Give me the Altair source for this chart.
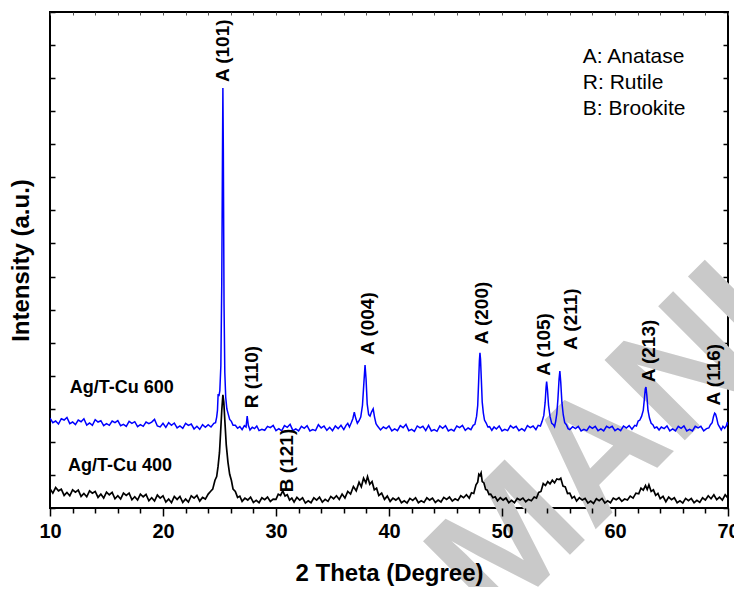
import altair as alt
import pandas as pd

FONT = "Liberation Sans"

# ---------------- Ag/T-Cu 600 (blue) : (2theta, intensity) ----------------
blue_base_10_24 = [(10.0,2.72),(10.25,2.58),(10.5,2.63),(10.75,2.54),(11.0,2.7),(11.25,2.66),(11.5,2.74),(11.75,2.55),
    (12.0,2.6),(12.25,2.52),(12.5,2.66),(12.75,2.61),(13.0,2.7),(13.25,2.51),(13.5,2.57),(13.75,2.5),(14.0,2.67),
    (14.25,2.6),(14.5,2.64),(14.75,2.49),(15.0,2.55),(15.25,2.5),(15.5,2.63),(15.75,2.58),(16.0,2.64),(16.25,2.49),
    (16.5,2.53),(16.75,2.47),(17.0,2.62),(17.25,2.56),(17.5,2.61),(17.75,2.46),(18.0,2.52),(18.25,2.47),(18.5,2.6),
    (18.75,2.55),(19.0,2.6),(19.25,2.68),(19.5,2.48),(19.75,2.45),(20.0,2.56),(20.25,2.44),(20.5,2.58),(20.75,2.5),
    (21.0,2.57),(21.25,2.42),(21.5,2.48),(21.75,2.41),(22.0,2.56),(22.25,2.5),(22.5,2.54),(22.75,2.39),(23.0,2.47),
    (23.25,2.38),(23.5,2.52),(23.75,2.44),(24.0,2.52)]
blue_peak_101 = [(24.25,2.45),(24.5,2.56),(24.65,2.58),(24.75,2.75),(24.82,2.95),(24.88,3.45),(24.95,3.38),(25.03,3.55),
    (25.12,4.3),(25.2,6.8),(25.26,10.5),(25.3,12.7),(25.34,10.8),(25.4,6.2),(25.47,4.1),(25.55,3.35),(25.65,3.0),
    (25.75,2.87),(25.9,2.68),(26.05,2.62),(26.2,2.5)]
blue_base_26_36 = [(26.4,2.5),(26.6,2.41),(26.8,2.46),(27.0,2.37),(27.2,2.49),(27.35,2.45),(27.45,2.78),(27.55,2.5),
    (27.7,2.36),(27.9,2.44),(28.1,2.4),(28.3,2.48),(28.5,2.34),(28.75,2.38),(29.0,2.35),(29.25,2.47),(29.5,2.43),
    (29.75,2.5),(30.0,2.34),(30.25,2.4),(30.5,2.33),(30.75,2.49),(31.0,2.44),(31.25,2.53),(31.5,2.34),(31.75,2.39),
    (32.0,2.33),(32.25,2.47),(32.5,2.41),(32.75,2.49),(33.0,2.33),(33.25,2.37),(33.5,2.34),(33.75,2.52),(34.0,2.42),
    (34.25,2.48),(34.5,2.35),(34.75,2.44),(35.0,2.34),(35.25,2.48),(35.5,2.4),(35.75,2.5),(36.0,2.37),(36.2,2.5)]
blue_peak_004 = [(36.35,2.56),(36.5,2.45),(36.65,2.57),(36.8,2.7),(36.93,2.9),(37.05,2.72),(37.2,2.56),(37.35,2.64),
    (37.5,2.75),(37.65,3.1),(37.78,3.8),(37.88,4.32),(37.97,3.9),(38.07,3.15),(38.2,2.82),(38.32,2.78),(38.45,2.9),
    (38.6,3.0),(38.72,2.75),(38.85,2.55),(39.0,2.47)]
blue_base_39_47 = [(39.25,2.36),(39.5,2.45),(39.75,2.4),(40.0,2.48),(40.25,2.33),(40.5,2.39),(40.75,2.34),(41.0,2.49),
    (41.25,2.43),(41.5,2.53),(41.75,2.34),(42.0,2.38),(42.25,2.32),(42.5,2.48),(42.75,2.42),(43.0,2.47),(43.25,2.34),
    (43.5,2.5),(43.75,2.33),(44.0,2.37),(44.25,2.32),(44.5,2.48),(44.75,2.41),(45.0,2.49),(45.25,2.33),(45.5,2.38),
    (45.75,2.33),(46.0,2.48),(46.25,2.43),(46.5,2.5),(46.75,2.35),(47.0,2.42),(47.25,2.37)]
blue_peak_200 = [(47.45,2.5),(47.6,2.53),(47.75,2.77),(47.85,3.1),(47.93,3.8),(48.0,4.45),(48.05,4.69),(48.1,4.5),
    (48.17,3.9),(48.25,3.2),(48.35,2.87),(48.45,2.66),(48.6,2.57),(48.75,2.45),(48.9,2.46)]
blue_base_49_53 = [(49.1,2.35),(49.3,2.45),(49.5,2.39),(49.75,2.48),(50.0,2.33),(50.25,2.38),(50.5,2.34),(50.75,2.49),
    (51.0,2.42),(51.25,2.47),(51.5,2.34),(51.75,2.4),(52.0,2.33),(52.25,2.49),(52.5,2.43),(52.75,2.48),(53.0,2.37),
    (53.2,2.5)]
blue_peak_105_211 = [(53.4,2.48),(53.55,2.62),(53.7,2.8),(53.82,3.2),(53.9,3.65),(53.95,3.82),(54.02,3.6),(54.12,3.1),
    (54.25,2.77),(54.4,2.56),(54.55,2.52),(54.65,2.46),(54.75,2.62),(54.85,2.85),(54.95,3.3),(55.05,3.9),(55.12,4.14),
    (55.2,3.8),(55.3,3.2),(55.42,2.82),(55.55,2.58),(55.7,2.52),(55.85,2.4)]
blue_base_56_62 = [(56.0,2.37),(56.25,2.46),(56.5,2.4),(56.75,2.47),(57.0,2.33),(57.25,2.38),(57.5,2.34),(57.75,2.47),
    (58.0,2.41),(58.25,2.47),(58.5,2.34),(58.75,2.39),(59.0,2.33),(59.25,2.47),(59.5,2.42),(59.75,2.47),(60.0,2.34),
    (60.25,2.4),(60.5,2.34),(60.75,2.48),(61.0,2.42),(61.25,2.49),(61.5,2.38),(61.75,2.5)]
blue_peak_213 = [(61.9,2.48),(62.05,2.63),(62.2,2.66),(62.35,2.77),(62.5,2.95),(62.6,3.3),(62.68,3.6),(62.74,3.66),
    (62.82,3.4),(62.92,2.95),(63.05,2.72),(63.2,2.56),(63.35,2.52),(63.5,2.42),(63.7,2.45)]
blue_base_64_68 = [(63.9,2.36),(64.1,2.45),(64.35,2.4),(64.6,2.48),(64.85,2.33),(65.1,2.39),(65.35,2.33),(65.6,2.47),
    (65.85,2.41),(66.1,2.48),(66.35,2.33),(66.6,2.38),(66.85,2.33),(67.1,2.47),(67.35,2.42),(67.6,2.47),(67.85,2.33),
    (68.1,2.4),(68.3,2.42)]
blue_peak_116 = [(68.45,2.52),(68.6,2.58),(68.72,2.77),(68.82,2.87),(68.9,2.84),(69.0,2.72),(69.12,2.53),(69.25,2.45),
    (69.4,2.36),(69.55,2.47),(69.7,2.41),(69.85,2.48),(69.95,2.6),(70.0,2.5)]

# ---------------- Ag/T-Cu 400 (black) ----------------
black_base_10_24 = [(10.0,0.58),(10.25,0.45),(10.5,0.62),(10.75,0.52),(11.0,0.57),(11.25,0.38),(11.5,0.47),(11.75,0.37),
    (12.0,0.55),(12.25,0.48),(12.5,0.54),(12.75,0.35),(13.0,0.44),(13.25,0.34),(13.5,0.52),(13.75,0.45),(14.0,0.5),
    (14.25,0.32),(14.5,0.42),(14.75,0.3),(15.0,0.48),(15.25,0.4),(15.5,0.47),(15.75,0.28),(16.0,0.37),(16.25,0.27),
    (16.5,0.45),(16.75,0.38),(17.0,0.45),(17.25,0.25),(17.5,0.34),(17.75,0.24),(18.0,0.42),(18.25,0.34),(18.5,0.41),
    (18.75,0.22),(19.0,0.31),(19.25,0.21),(19.5,0.39),(19.75,0.3),(20.0,0.37),(20.25,0.18),(20.5,0.27),(20.75,0.16),
    (21.0,0.35),(21.25,0.26),(21.5,0.35),(21.75,0.17),(22.0,0.27),(22.25,0.18),(22.5,0.37),(22.75,0.3),(23.0,0.38),
    (23.25,0.21),(23.5,0.32),(23.75,0.27),(24.0,0.42)]
black_peak_101 = [(24.2,0.5),(24.4,0.57),(24.6,0.84),(24.75,0.95),(24.87,1.25),(25.0,1.68),(25.1,2.3),(25.2,2.95),
    (25.3,3.42),(25.38,3.2),(25.48,2.6),(25.6,1.9),(25.75,1.38),(25.9,1.02),(26.05,0.84),(26.2,0.57),(26.4,0.5),
    (26.6,0.32),(26.8,0.36)]
black_base_27_35 = [(27.0,0.2),(27.25,0.3),(27.5,0.24),(27.75,0.33),(28.0,0.17),(28.25,0.23),(28.5,0.16),(28.75,0.31),
    (29.0,0.25),(29.25,0.33),(29.5,0.2),(29.75,0.27),(30.0,0.26),(30.2,0.42),(30.4,0.38),(30.6,0.52),(30.8,0.36),
    (31.0,0.4),(31.2,0.24),(31.4,0.3),(31.6,0.18),(31.85,0.32),(32.1,0.24),(32.35,0.31),(32.6,0.15),(32.85,0.22),
    (33.1,0.16),(33.35,0.31),(33.6,0.24),(33.85,0.33),(34.1,0.18),(34.35,0.26),(34.6,0.2),(34.85,0.35),(35.1,0.28),
    (35.35,0.37)]
black_peak_004 = [(35.6,0.26),(35.85,0.42),(36.1,0.3),(36.35,0.5),(36.6,0.42),(36.85,0.65),(37.1,0.52),(37.35,0.78),
    (37.55,0.64),(37.75,0.9),(37.95,0.76),(38.1,0.95),(38.3,0.72),(38.5,0.8),(38.7,0.55),(38.9,0.6),(39.1,0.38),
    (39.35,0.45),(39.6,0.26),(39.85,0.36)]
black_base_40_47 = [(40.1,0.2),(40.35,0.3),(40.6,0.24),(40.85,0.31),(41.1,0.16),(41.35,0.22),(41.6,0.15),(41.85,0.29),
    (42.1,0.23),(42.35,0.31),(42.6,0.16),(42.85,0.22),(43.1,0.17),(43.35,0.31),(43.6,0.24),(43.85,0.3),(44.1,0.17),
    (44.35,0.24),(44.6,0.18),(44.85,0.32),(45.1,0.26),(45.35,0.33),(45.6,0.21),(45.85,0.28),(46.1,0.23),(46.35,0.37),
    (46.6,0.31),(46.85,0.4),(47.1,0.3)]
black_peak_200 = [(47.3,0.46),(47.5,0.44),(47.7,0.7),(47.85,0.78),(47.95,1.02),(48.05,0.98),(48.15,1.06),(48.25,0.8),
    (48.4,0.76),(48.55,0.56),(48.7,0.54),(48.85,0.41),(49.0,0.42),(49.2,0.31),(49.4,0.34)]
black_base_49_53 = [(49.6,0.22),(49.85,0.31),(50.1,0.24),(50.35,0.3),(50.6,0.16),(50.85,0.23),(51.1,0.16),(51.35,0.29),
    (51.6,0.24),(51.85,0.3),(52.1,0.19),(52.35,0.26),(52.6,0.22),(52.85,0.33)]
black_peak_105_211 = [(53.05,0.3),(53.25,0.47),(53.45,0.5),(53.65,0.74),(53.85,0.68),(54.05,0.8),(54.25,0.73),
    (54.45,0.84),(54.65,0.76),(54.85,0.88),(55.05,0.86),(55.2,0.9),(55.4,0.66),(55.6,0.64),(55.8,0.44),(56.0,0.45),
    (56.2,0.3),(56.4,0.35)]
black_base_56_61 = [(56.6,0.21),(56.85,0.31),(57.1,0.24),(57.35,0.29),(57.6,0.15),(57.85,0.21),(58.1,0.14),(58.35,0.28),
    (58.6,0.22),(58.85,0.29),(59.1,0.15),(59.35,0.22),(59.6,0.16),(59.85,0.3),(60.1,0.25),(60.35,0.31),(60.6,0.2),
    (60.85,0.27),(61.1,0.24),(61.35,0.36)]
black_peak_213 = [(61.6,0.3),(61.85,0.45),(62.1,0.43),(62.3,0.6),(62.5,0.54),(62.7,0.68),(62.85,0.56),(63.0,0.7),
    (63.2,0.5),(63.4,0.55),(63.6,0.38),(63.8,0.44),(64.0,0.28),(64.25,0.35)]
black_base_64_70 = [(64.5,0.19),(64.75,0.33),(65.0,0.25),(65.25,0.31),(65.5,0.16),(65.75,0.22),(66.0,0.15),(66.25,0.29),
    (66.5,0.22),(66.75,0.29),(67.0,0.16),(67.25,0.23),(67.5,0.17),(67.75,0.31),(68.0,0.24),(68.25,0.37),(68.5,0.28),
    (68.75,0.4),(69.0,0.25),(69.25,0.33),(69.5,0.24),(69.75,0.4),(70.0,0.3)]

# ---------------- annotations ----------------
peak_labels = ["A (101)", "R (110)", "B (121)", "A (004)", "A (200)", "A (105)", "A (211)", "A (213)", "A (116)"]
peak_label_theta = [25.3, 27.9, 31.0, 38.1, 48.2, 53.7, 56.1, 63.0, 68.75]
peak_label_base = [12.88, 3.02, 0.48, 4.63, 4.95, 4.0, 4.78, 3.8, 3.1]

sample_labels = ["Ag/T-Cu 600", "Ag/T-Cu 400"]
sample_label_theta = [11.75, 11.6]
sample_label_pos = [3.62, 1.28]

phase_key = ["A: Anatase", "R: Rutile", "B: Brookite"]
phase_key_theta = [57.15, 57.15, 57.15]
phase_key_pos = [13.64, 12.85, 12.07]

watermark_text = ["MANUSCRIPT"]
watermark_theta = [46.3]
watermark_pos = [-2.6]

x_tick_values = list(range(10, 71, 2))
y_tick_values = list(range(0, 16))


def to_frame(*segments):
    pts = [p for seg in segments for p in seg]
    return pd.DataFrame({"theta": [p[0] for p in pts], "intensity": [p[1] for p in pts]})


blue_df = to_frame(blue_base_10_24, blue_peak_101, blue_base_26_36, blue_peak_004, blue_base_39_47,
                   blue_peak_200, blue_base_49_53, blue_peak_105_211, blue_base_56_62, blue_peak_213,
                   blue_base_64_68, blue_peak_116)
black_df = to_frame(black_base_10_24, black_peak_101, black_base_27_35, black_peak_004, black_base_40_47,
                    black_peak_200, black_base_49_53, black_peak_105_211, black_base_56_61, black_peak_213,
                    black_base_64_70)
peaks_df = pd.DataFrame({"label": peak_labels, "theta": peak_label_theta, "intensity": peak_label_base})
samples_df = pd.DataFrame({"label": sample_labels, "theta": sample_label_theta, "intensity": sample_label_pos})
key_df = pd.DataFrame({"label": phase_key, "theta": phase_key_theta, "intensity": phase_key_pos})
wm_df = pd.DataFrame({"label": watermark_text, "theta": watermark_theta, "intensity": watermark_pos})

xs = alt.Scale(domain=[10, 70], nice=False, zero=False)
ys = alt.Scale(domain=[0, 15], nice=False, zero=False)

bottom_axis = alt.Axis(
    orient="bottom", values=x_tick_values, domain=False, grid=False, zindex=1,
    tickColor="black", tickWidth=1.5,
    tickSize={"condition": {"test": "datum.value % 10 === 0", "value": 8}, "value": 5},
    labelExpr="datum.value % 10 === 0 ? datum.label : ''", labelOverlap=False, labelFlush=False,
    labelFont=FONT, labelFontSize=20, labelFontWeight="bold", labelColor="black", labelPadding=5,
    title="2 Theta (Degree)", titleFont=FONT, titleFontSize=24, titleFontWeight="bold",
    titleColor="black", titlePadding=20,
)
left_axis = alt.Axis(
    orient="left", values=y_tick_values, labels=False, domain=False, grid=False, zindex=1,
    tickColor="black", tickWidth=1.5, tickSize=5, offset=-5,
    title="Intensity (a.u.)", titleFont=FONT, titleFontSize=24, titleFontWeight="bold",
    titleColor="black", titlePadding=16,
)
top_axis = alt.Axis(orient="top", values=x_tick_values, labels=False, domain=False, grid=False,
                    tickColor="#555555", tickWidth=1, tickSize=3, offset=-3, title=None)
right_axis = alt.Axis(orient="right", values=y_tick_values, labels=False, domain=False, grid=False,
                      tickColor="black", tickWidth=1.5, tickSize=5, offset=-5, title=None)

watermark = alt.Chart(wm_df).mark_text(
    angle=315, align="left", baseline="middle", fontSize=165, fontWeight="bold",
    font=FONT, color="#c9c9c9",
).encode(
    x=alt.X("theta:Q", scale=xs, axis=None),
    y=alt.Y("intensity:Q", scale=ys, axis=None),
    text="label:N",
)

blue_line = alt.Chart(blue_df).mark_line(color="#0000ff", strokeWidth=1.5, clip=True).encode(
    x=alt.X("theta:Q", scale=xs, axis=bottom_axis),
    y=alt.Y("intensity:Q", scale=ys, axis=left_axis),
)
black_line = alt.Chart(black_df).mark_line(color="black", strokeWidth=1.7, clip=True).encode(
    x=alt.X("theta:Q", scale=xs, axis=None),
    y=alt.Y("intensity:Q", scale=ys, axis=None),
)

peak_text = alt.Chart(peaks_df).mark_text(
    angle=270, align="left", baseline="middle", fontSize=19, fontWeight="bold",
    font=FONT, color="black",
).encode(
    x=alt.X("theta:Q", scale=xs, axis=top_axis),
    y=alt.Y("intensity:Q", scale=ys, axis=right_axis),
    text="label:N",
)

sample_text = alt.Chart(samples_df).mark_text(
    align="left", baseline="middle", fontSize=18, fontWeight="bold", font=FONT, color="black",
).encode(
    x=alt.X("theta:Q", scale=xs, axis=None),
    y=alt.Y("intensity:Q", scale=ys, axis=None),
    text="label:N",
)

key_text = alt.Chart(key_df).mark_text(
    align="left", baseline="middle", fontSize=21, font=FONT, color="black",
).encode(
    x=alt.X("theta:Q", scale=xs, axis=None),
    y=alt.Y("intensity:Q", scale=ys, axis=None),
    text="label:N",
)

chart = alt.layer(
    watermark, blue_line, black_line, peak_text, sample_text, key_text
).resolve_scale(
    x="shared", y="shared"
).resolve_axis(
    x="independent", y="independent"
).properties(
    width=678, height=496,
    autosize=alt.AutoSizeParams(type="none"),
    padding={"left": 42, "top": 4, "right": 6, "bottom": 79},
    background="white",
).configure_view(stroke="black", strokeWidth=2)

chart.save("out.html", embed_options={"renderer": "svg", "actions": False})
